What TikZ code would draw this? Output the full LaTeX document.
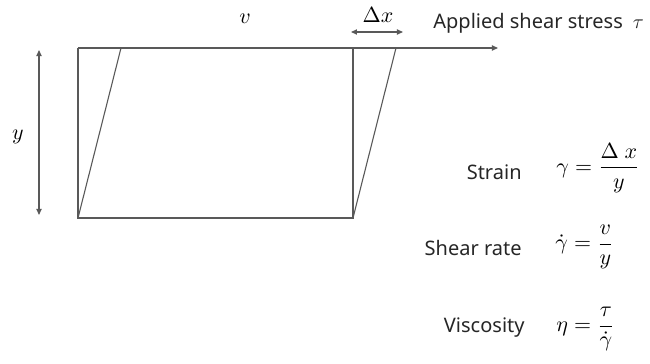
\documentclass[tikz,border=0pt]{standalone}
\usepackage{amsmath}
\usepackage{fontspec}
\setmainfont{Noto Sans}
\usepackage{tikz}
\usetikzlibrary{arrows.meta, positioning}

\begin{document}
\begin{tikzpicture}[
  x=0.5pt, y=-0.5pt,
  font=\normalsize,
  ln/.style={draw=black!65, line width=0.55pt},
  ar/.style={ln, -{Triangle[length=3pt, width=2.6pt]}},
  dar/.style={ln, {Triangle[length=3pt, width=2.6pt]}-{Triangle[length=3pt, width=2.6pt]}},
  mt/.style={font=\fontsize{11}{13}\selectfont},
  lb/.style={anchor=east, inner sep=0pt, text=black!85},
  eq/.style={mt, anchor=west, inner sep=0pt}
]
\useasboundingbox (0,0) rectangle (650,364);
\coordinate (tl) at (78,48);
\coordinate (bl) at (78,218);
\coordinate (tr) at (353,48);
\coordinate (br) at (353,218);
\coordinate (tls) at (121,48);
\coordinate (trs) at (396,48);
\coordinate (tip) at (498,48);
\coordinate (ytop) at (39,50);
\coordinate (ybot) at (39,215);
\coordinate (dxl) at (351,32);
\coordinate (dxr) at (403,32);
\draw[ln] (tl) -- (bl) -- (br) -- (tr);
\draw[ln] (bl) -- (tls);
\draw[ln] (br) -- (trs);
\draw[ar] (tl) -- (tip);
\draw[dar] (ytop) -- (ybot);
\draw[dar] (dxl) -- (dxr);
\node[mt] (vlab) at (245,19) {$v$};
\node[mt] (dxlab) at (378,15) {$\Delta x$};
\node[mt] (ylab) at (18,137) {$y$};
\node[anchor=west, inner sep=0pt, text=black!85] (stress) at (433,23) {Applied shear stress\hspace{0.5em}$\tau$};
\node[lb] (strain) at (522,172) {Strain};
\node[eq] (streq) at (556,168) {$\displaystyle \gamma=\frac{\Delta\ x}{y}$};
\node[lb] (rate) at (522,248) {Shear rate};
\node[eq] (rateeq) at (555,247) {$\displaystyle \dot{\gamma}=\frac{v}{y}$};
\node[lb] (visc) at (525,328) {Viscosity};
\node[eq] (visceq) at (556,329) {$\displaystyle \eta=\frac{\tau}{\dot{\gamma}}$};
\end{tikzpicture}
\end{document}
